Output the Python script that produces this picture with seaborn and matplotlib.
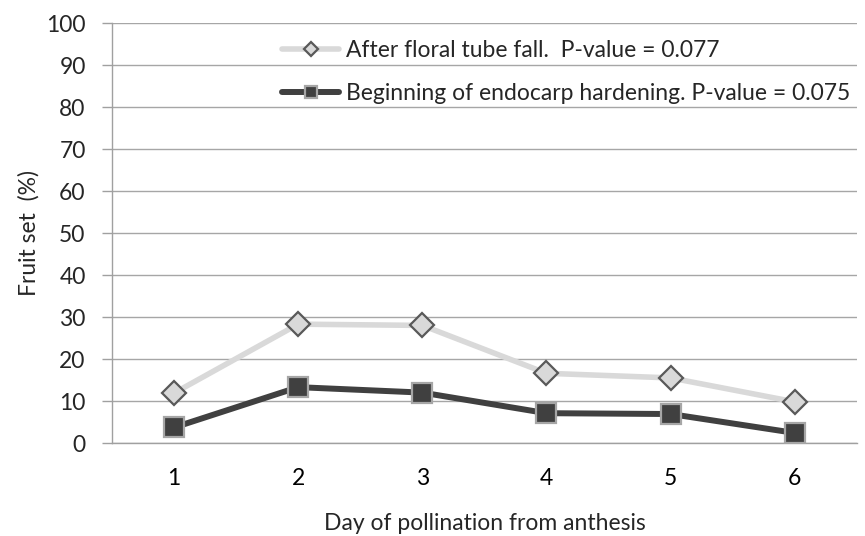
import matplotlib
matplotlib.use("Agg")
import matplotlib.pyplot as plt
import seaborn as sns
import pandas as pd

days = [1, 2, 3, 4, 5, 6]
after_fall = [11.9, 28.3, 28.0, 16.6, 15.5, 9.8]
endocarp = [3.7, 13.3, 12.0, 7.1, 6.9, 2.4]
lab_fall = "After floral tube fall.  P-value = 0.077"
lab_endo = "Beginning of endocarp hardening. P-value = 0.075"

sns.set_style("white")
plt.rcParams['font.family'] = ['Lato', 'DejaVu Sans']
fs = 16.5

fig = plt.figure(figsize=(8.65, 5.36), dpi=100)
ax = fig.add_axes([0.1295, 0.1735, 0.861, 0.7835])

df1 = pd.DataFrame({"day": days, "val": after_fall})
df2 = pd.DataFrame({"day": days, "val": endocarp})

sns.lineplot(data=df1, x="day", y="val", ax=ax, color="#d9d9d9", lw=4,
             marker="D", markersize=12.5, markerfacecolor="#d9d9d9",
             markeredgecolor="#595959", markeredgewidth=1.6, label=lab_fall, zorder=3)
sns.lineplot(data=df2, x="day", y="val", ax=ax, color="#404040", lw=4.3,
             marker="s", markersize=14, markerfacecolor="#404040",
             markeredgecolor="#a6a6a6", markeredgewidth=1.6, label=lab_endo, zorder=4)

ax.set_xlim(0.5, 6.5)
ax.set_ylim(0, 100)
ax.set_yticks(range(0, 101, 10))
ax.set_xticks(days)
ax.set_xticks([0.5 + i for i in range(7)], minor=True)
ax.tick_params(axis="x", which="major", length=0, labelsize=fs, pad=18, colors="#000000")
ax.tick_params(axis="x", which="minor", length=6, width=1, color="#a0a0a0", direction="out")
ax.tick_params(axis="y", length=7, width=1, color="#a0a0a0", labelsize=fs, pad=12, left=True)
ax.yaxis.grid(True, color="#a6a6a6", lw=1)
ax.set_axisbelow(True)
for s in ["top", "right"]:
    ax.spines[s].set_visible(False)
for s in ["left", "bottom"]:
    ax.spines[s].set_color("#a0a0a0")
    ax.spines[s].set_linewidth(1)

ax.set_xlabel("Day of pollination from anthesis", fontsize=fs, labelpad=17)
ax.set_ylabel("Fruit set  (%)", fontsize=fs, labelpad=5)

ax.legend(loc="upper left", bbox_to_anchor=(282 / 865, 1 - 40 / 536),
          bbox_transform=fig.transFigure, frameon=False,
          fontsize=fs, handlelength=2.5, handletextpad=0.3, labelspacing=0.95,
          borderpad=0, borderaxespad=0, markerscale=0.6)

fig.savefig("out.png", dpi=100)
